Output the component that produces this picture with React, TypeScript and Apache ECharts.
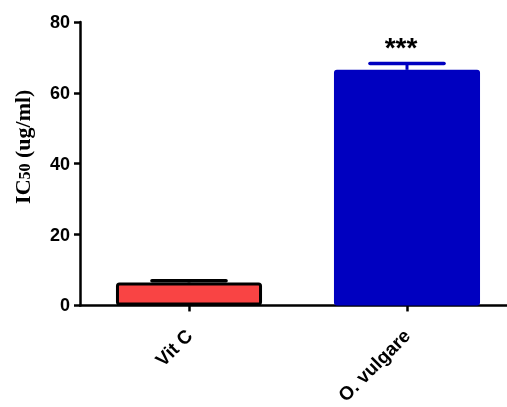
import React, { useEffect, useRef } from "react";
import * as echarts from "echarts";

const categories = ["Vit C", "O. vulgare"];
const means = [6.5, 66.5];
const errors = [0.5, 1.8];
const barColors = ["#F94444", "#0000C0"];
const borderColors = ["#000000", "#0000C0"];
const significance = ["", "***"];
const yTicks = [0, 20, 40, 60, 80];

export default function App() {
  const ref = useRef<HTMLDivElement>(null);
  useEffect(() => {
    if (!ref.current) return;
    const chart = echarts.init(ref.current, null, { renderer: "svg" });
    const font = "'Liberation Sans', Arial, sans-serif";
    const serif = "'Liberation Serif', 'Times New Roman', serif";
    chart.setOption({
      animation: false,
      grid: { left: 80, right: 0, top: 22, bottom: 99, containLabel: false },
      xAxis: {
        type: "category",
        data: categories,
        axisLine: { lineStyle: { color: "#000", width: 2.5 } },
        axisTick: { show: true, alignWithLabel: true, length: 6, lineStyle: { width: 2.5, color: "#000" } },
        axisLabel: {
          rotate: 45,
          margin: 27,
          color: "#000",
          fontWeight: "bold",
          fontSize: 19,
          fontFamily: font,
        },
      },
      yAxis: {
        type: "value",
        min: yTicks[0],
        max: yTicks[yTicks.length - 1],
        interval: 20,
        splitLine: { show: false },
        axisLine: { show: true, lineStyle: { color: "#000", width: 2.5 } },
        axisTick: { show: true, length: 6, lineStyle: { width: 2.5, color: "#000" } },
        axisLabel: {
          margin: 10,
          color: "#000",
          fontWeight: "bold",
          fontSize: 18,
          fontFamily: font,
        },
        name: "{a|IC}{b|50}{a| (ug/ml)}",
        nameLocation: "middle",
        nameGap: 47,
        nameTextStyle: {
          padding: [0, 0, 0, 34],
          rich: {
            a: { fontFamily: serif, fontWeight: "bold", fontSize: 22, color: "#000" },
            b: { fontFamily: serif, fontWeight: "bold", fontSize: 16, color: "#000", padding: [4, 0, 0, 0] },
          },
        },
      },
      series: [
        {
          type: "bar",
          barWidth: "67%",
          data: means.map((v, i) => ({
            value: v,
            itemStyle: {
              color: barColors[i],
              borderColor: borderColors[i],
              borderWidth: i === 0 ? 3 : 0,
              borderRadius: i === 0 ? 2 : 3,
            },
          })),
          z: 3,
        },
        {
          type: "custom",
          z: 2,
          data: means.map((v, i) => [i, v, errors[i]]),
          renderItem: (params: any, api: any) => {
            const i = api.value(0);
            const m = api.value(1);
            const e = api.value(2);
            const base = api.coord([i, m]);
            const top = api.coord([i, m + e]);
            const half = api.size([1, 0])[0] * 0.17;
            const color = borderColors[i];
            const children: any[] = [
              { type: "line", shape: { x1: base[0], y1: base[1], x2: top[0], y2: top[1] }, style: { stroke: color, lineWidth: 3 } },
              { type: "line", shape: { x1: top[0] - half, y1: top[1], x2: top[0] + half, y2: top[1] }, style: { stroke: color, lineWidth: 3.5, lineCap: "round" } },
            ];
            if (significance[i]) {
              children.push({
                type: "text",
                x: top[0] - 6,
                y: top[1] - 16,
                style: {
                  text: significance[i],
                  fill: "#000",
                  font: "bold 28px 'Liberation Sans', Arial, sans-serif",
                  align: "center",
                  verticalAlign: "middle",
                },
              });
            }
            return { type: "group", children };
          },
        },
      ],
    });
    return () => chart.dispose();
  }, []);
  return (
    <div style={{ position: "fixed", left: 0, top: 0, width: 507, height: 407, overflow: "hidden" }}>
      <div ref={ref} style={{ width: 516, height: 407 }} />
    </div>
  );
}
